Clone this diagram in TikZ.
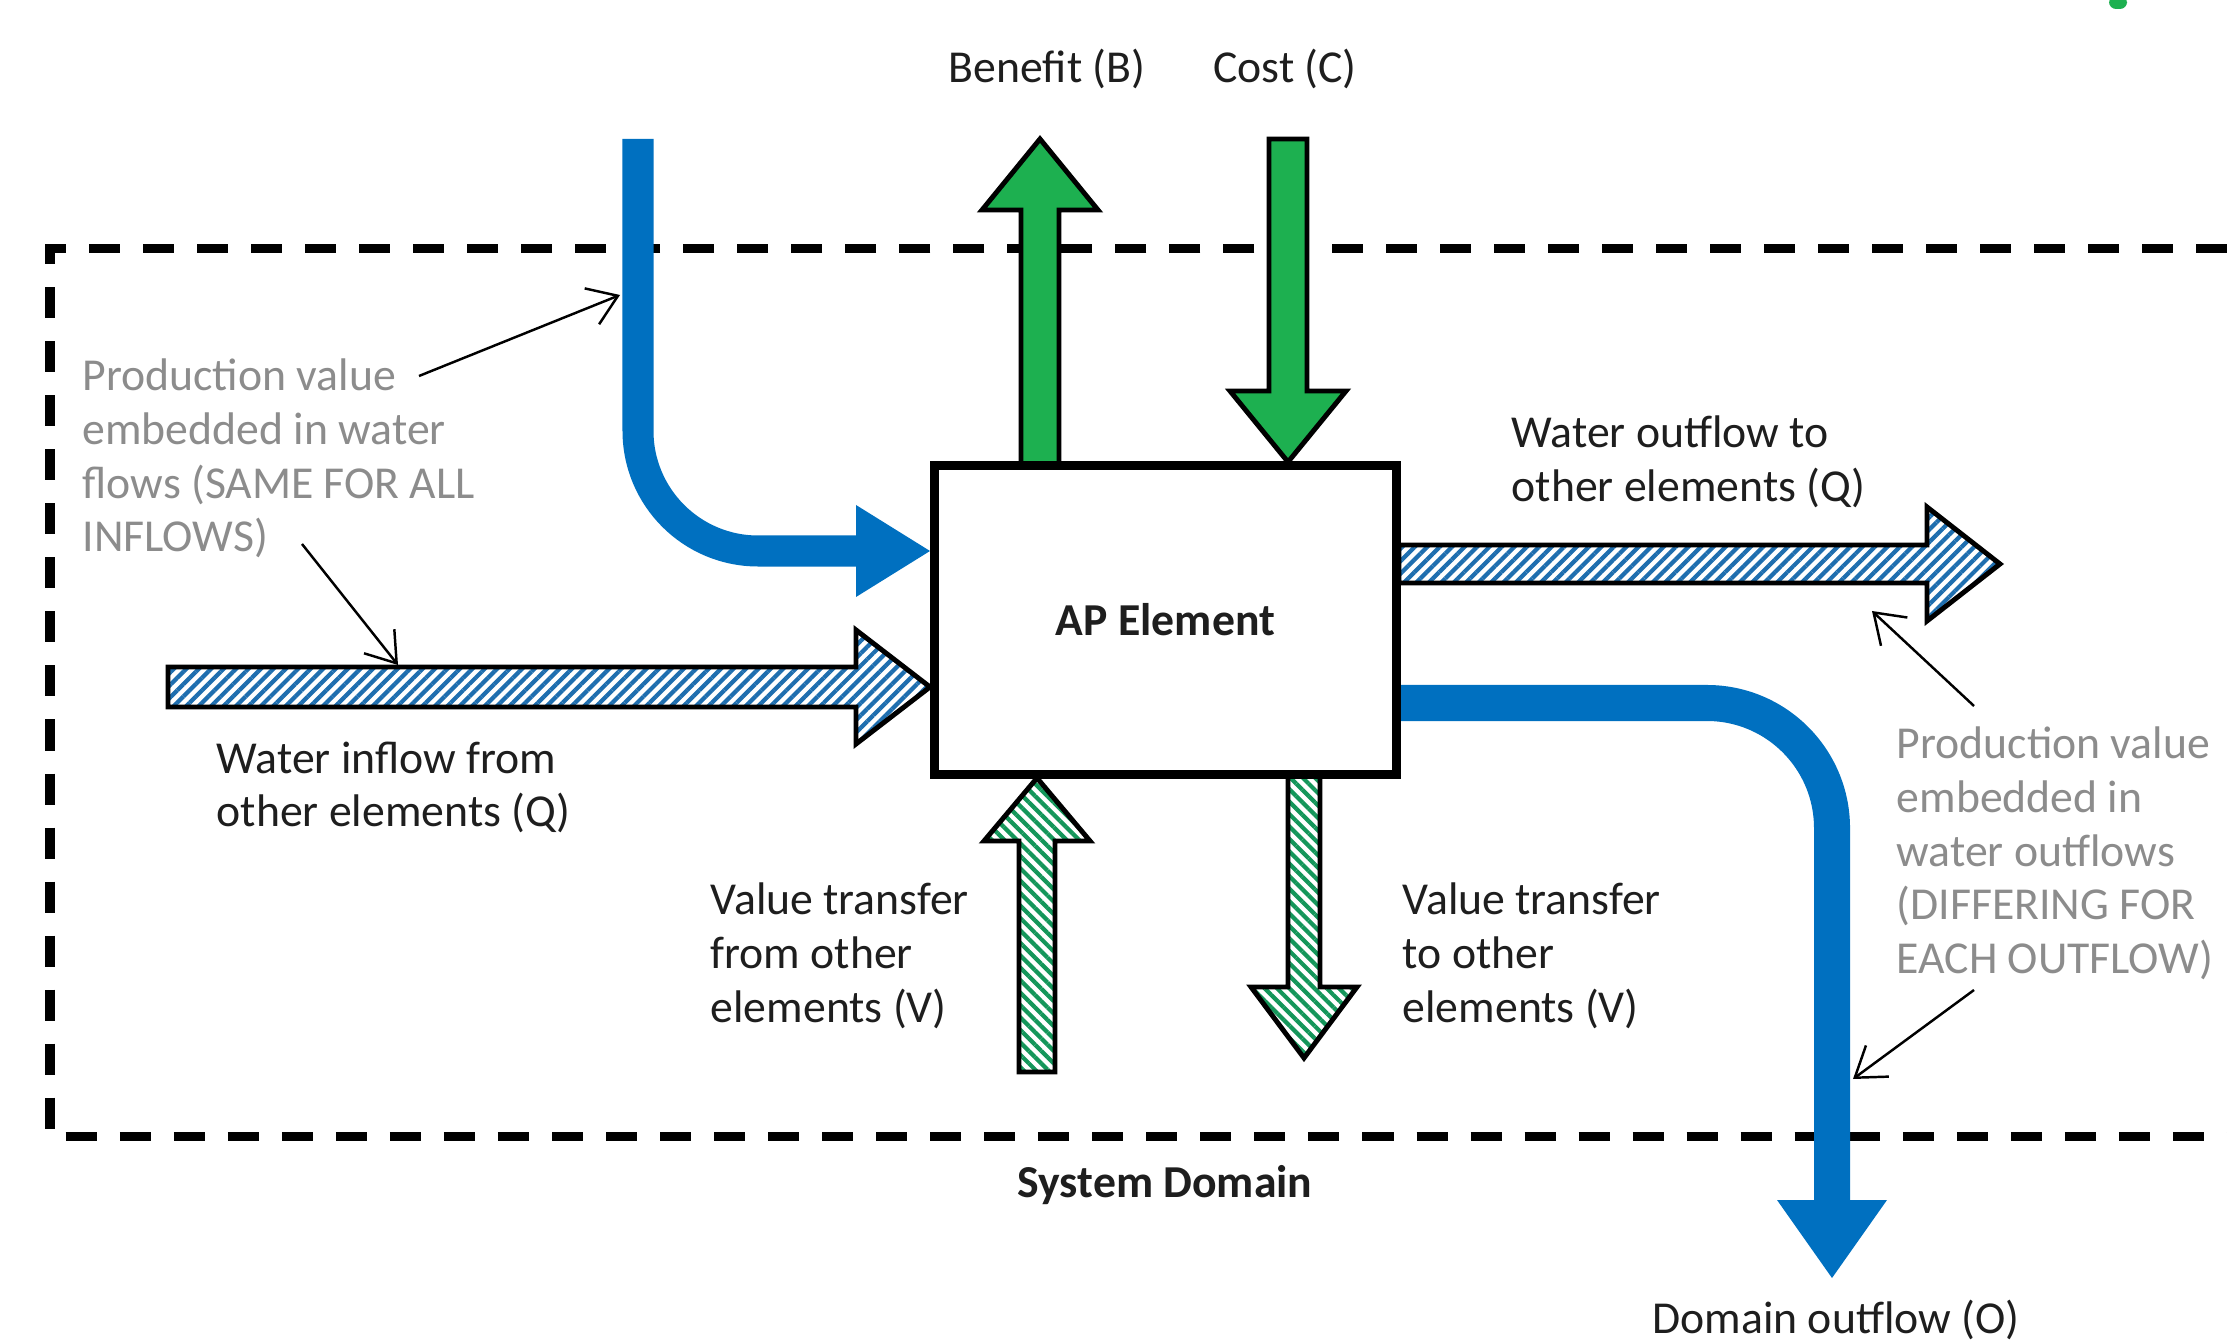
\documentclass[tikz,border=0pt]{standalone}
\usepackage{fontspec}
\setmainfont{Carlito}
\usetikzlibrary{patterns.meta,arrows.meta}
\definecolor{wblue}{RGB}{0,112,192}
\definecolor{sblue}{RGB}{30,110,175}
\definecolor{bgreen}{RGB}{29,176,80}
\definecolor{sgreen}{RGB}{20,150,90}
\definecolor{gtext}{RGB}{140,140,140}
\definecolor{btext}{RGB}{30,30,30}
\tikzset{
  lbl/.style={font=\fontsize{13}{15.3}\selectfont, text=btext, inner sep=0pt, align=left, anchor=north west},
  glbl/.style={lbl, text=gtext},
  blbl/.style={font=\fontsize{13}{15.3}\selectfont\bfseries, text=btext, inner sep=0pt},
  sysborder/.style={line width=0.09cm, dash pattern=on 0.31cm off 0.23cm},
  blockout/.style={draw=black, line width=1.4pt, line join=miter},
  bluehatch/.style={blockout, pattern={Lines[angle=45,distance=2.5pt,line width=1.2pt]}, pattern color=sblue},
  greenhatch/.style={blockout, pattern={Lines[angle=-45,distance=2.5pt,line width=1.2pt]}, pattern color=sgreen},
  greensolid/.style={blockout, fill=bgreen},
  note/.style={draw=black, line width=0.7pt, -{Straight Barb[length=8pt,width=11pt,line width=0.7pt]}},
  water/.style={draw=wblue, line cap=butt},
}
\begin{document}
\begin{tikzpicture}[x=0.01cm,y=-0.01cm]
\useasboundingbox (0,0) rectangle (2227,1340);
\fill[white] (0,0) rectangle (2227,1340);
% small green mark
\fill[bgreen, rounded corners=2pt] (2109,-4) rectangle (2127,9);
% system domain
\draw[sysborder] (2227,249) -- (50,249) -- (50,1136) -- (2227,1136);
% blue water lines
\draw[water, line width=0.31cm, rounded corners=1.2cm] (638,139) -- (638,551) -- (860,551);
\fill[wblue] (856,505) -- (930,551) -- (856,597) -- cycle;
\draw[water, line width=0.36cm, rounded corners=1.25cm] (1399,703) -- (1832,703) -- (1832,1204);
\fill[wblue] (1777,1200) -- (1887,1200) -- (1832,1278) -- cycle;
% hatched water arrows
\draw[bluehatch] (168,667) -- (856,667) -- (856,630) -- (930,687) -- (856,744) -- (856,707) -- (168,707) -- cycle;
\draw[bluehatch] (1399,545) -- (1927,545) -- (1927,507) -- (2000,564) -- (1927,621) -- (1927,583) -- (1399,583) -- cycle;
% benefit / cost
\draw[greensolid] (1021,466) -- (1021,210) -- (982,210) -- (1040,139) -- (1098,210) -- (1059,210) -- (1059,466) -- cycle;
\draw[greensolid] (1269,139) -- (1307,139) -- (1307,391) -- (1346,391) -- (1288,462) -- (1230,391) -- (1269,391) -- cycle;
% value transfers
\draw[greenhatch] (1019,1072) -- (1019,841) -- (984,841) -- (1037,778) -- (1090,841) -- (1055,841) -- (1055,1072) -- cycle;
\draw[greenhatch] (1288,774) -- (1288,987) -- (1251,987) -- (1304,1058) -- (1357,987) -- (1320,987) -- (1320,774) -- cycle;
% AP element
\node[draw=black, fill=white, line width=2.6pt, minimum width=4.61cm, minimum height=3.08cm, inner sep=0pt] (ap) at (1165.5,620) {};
\node[blbl] (apl) at (ap.center) {AP Element};
% labels
\node[lbl, anchor=base] (ben) at (1047,83) {Benefit (B)};
\node[lbl, anchor=base] (cost) at (1285,83) {Cost (C)};
\node[glbl] (pvin) at (82,358) {Production value\\embedded in water\\flows (SAME FOR ALL\\INFLOWS)};
\node[lbl] (win) at (216,741) {Water inflow from\\other elements (Q)};
\node[lbl] (wout) at (1511,415) {Water outflow to\\other elements (Q)};
\node[glbl] (pvout) at (1896,726) {Production value\\embedded in\\water outflows\\(DIFFERING FOR\\EACH OUTFLOW)};
\node[lbl] (vfrom) at (710,882) {Value transfer\\from other\\elements (V)};
\node[lbl] (vto) at (1402,882) {Value transfer\\to other\\elements (V)};
\node[blbl] (sd) at (1165,1185) {System Domain};
\node[lbl, anchor=base] (dout) at (1836,1333) {Domain outflow (O)};
% annotation arrows
\coordinate (n1s) at (419,376); \coordinate (n1e) at (620,295);
\coordinate (n2s) at (302,544); \coordinate (n2e) at (398,665);
\coordinate (n3s) at (1974,706); \coordinate (n3e) at (1872,611);
\coordinate (n4s) at (1974,990); \coordinate (n4e) at (1853,1079);
\draw[note] (n1s) -- (n1e);
\draw[note] (n2s) -- (n2e);
\draw[note] (n3s) -- (n3e);
\draw[note] (n4s) -- (n4e);
\end{tikzpicture}
\end{document}
